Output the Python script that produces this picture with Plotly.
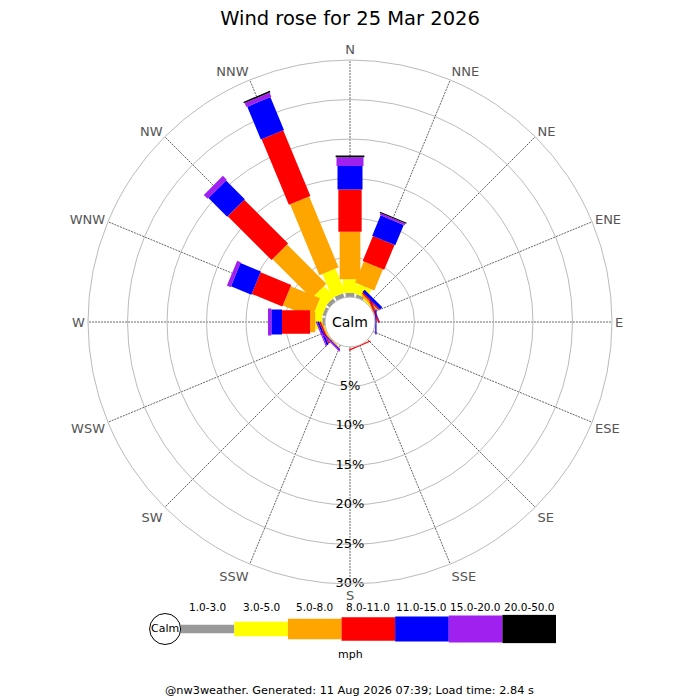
import numpy as np
import plotly.graph_objects as go

# ---- data: wind rose, percentage of time per direction and speed class ----
directions = ['N', 'NNE', 'NE', 'ENE', 'E', 'ESE', 'SE', 'SSE',
              'S', 'SSW', 'SW', 'WSW', 'W', 'WNW', 'NW', 'NNW']
speed_classes = ['1.0-3.0', '3.0-5.0', '5.0-8.0', '8.0-11.0', '11.0-15.0', '15.0-20.0', '20.0-50.0']

spd_1_3 = [0.5, 0.4, 0, 0, 0, 0, 0, 0, 0, 0, 0, 0, 0.35, 0.4, 0.5, 0.55]
spd_3_5 = [1.75, 1.3, 0.2, 0, 0, 0, 0, 0, 0, 0, 0.05, 0.1, 0.9, 1.1, 1.9, 3.25]
spd_5_8 = [6.0, 2.9, 0.25, 0.1, 0, 0, 0, 0, 0, 0, 0.1, 0.15, 0.65, 4.0, 7.0, 9.7]
spd_8_11 = [5.35, 3.4, 0.2, 0.2, 0.05, 0, 0, 0.15, 0, 0, 0.05, 0.2, 3.55, 4.2, 7.85, 9.0]
spd_11_15 = [3.0, 2.8, 0.4, 0.05, 0.15, 0, 0, 0, 0, 0, 0.1, 0.25, 1.35, 2.8, 3.35, 4.5]
spd_15_20 = [1.1, 0.25, 0, 0, 0, 0, 0, 0, 0, 0, 0.15, 0.15, 0.42, 0.5, 0.7, 0.55]
spd_20_50 = [0.2, 0.15, 0, 0, 0, 0, 0, 0, 0, 0, 0, 0, 0, 0, 0, 0.2]

radial_ticks = [5, 10, 15, 20, 25, 30]

# ---- style ----
colors = ['#999999', '#ffff00', '#ffa500', '#ff0000', '#0000ff', '#a020f0', '#000000']
seg_px = [8.7, 14.3, 20.7, 23.3, 25, 27, 28.7]   # bar thickness per class (px)
font = "DejaVu Sans"

# page body adds an 8px margin, so place everything in screen pixels minus that
OFF = 8
W = H = 700


def px_x(x):
    return (x - OFF) / W


def px_y(y):
    return 1 - (y - OFF) / H


all_classes = [spd_1_3, spd_3_5, spd_5_8, spd_8_11, spd_11_15, spd_15_20, spd_20_50]
stack = np.cumsum(np.array(all_classes), axis=0)

dom_x = [px_x(88), px_x(612)]
dom_y = [px_y(584.7), px_y(59.3)]

fig = go.Figure()

# rose segments: one polyline per class, gaps between directions
for i, vals in enumerate(all_classes):
    top = stack[i]
    base = top - np.array(vals)
    r, th = [], []
    for d, b, t in zip(directions, base, top):
        r += [b, t, None]
        th += [d, d, d]
    fig.add_trace(go.Scatterpolar(
        r=r, theta=th, mode='lines', connectgaps=False,
        line=dict(color=colors[i], width=seg_px[i]),
        hoverinfo='skip', showlegend=False,
    ))

# radial labels down the S spoke
fig.add_trace(go.Scatterpolar(
    r=radial_ticks, theta=['S'] * len(radial_ticks), mode='text',
    text=[f"{v}%" for v in radial_ticks], textposition='middle center',
    textfont=dict(family=font, size=13, color='#000000'),
    hoverinfo='skip', showlegend=False,
))

# legend strip (own axes)
fig.add_trace(go.Bar(
    x=list(range(len(speed_classes))), y=seg_px,
    base=[-w / 2 for w in seg_px], width=1,
    marker=dict(color=colors, line=dict(width=0)),
    xaxis='x2', yaxis='y2', hoverinfo='skip', showlegend=False,
))
fig.add_trace(go.Scatter(
    x=[-0.79], y=[0], mode='markers+text', text=['Calm'],
    textposition='middle center', textfont=dict(family=font, size=11, color='#000000'),
    marker=dict(size=31, color='white', line=dict(color='#000000', width=1)),
    cliponaxis=False, xaxis='x2', yaxis='y2', hoverinfo='skip', showlegend=False,
))

annotations = [
    dict(text='Calm', x=sum(dom_x) / 2, y=sum(dom_y) / 2, xref='paper', yref='paper',
         xanchor='center', yanchor='middle', showarrow=False,
         font=dict(family=font, size=14, color='#000000')),
    dict(text='mph', x=px_x(350), y=px_y(654), xref='paper', yref='paper',
         xanchor='center', yanchor='middle', showarrow=False,
         font=dict(family=font, size=11, color='#000000')),
    dict(text='@nw3weather. Generated: 11 Aug 2026 07:39; Load time: 2.84 s',
         x=px_x(349), y=px_y(690), xref='paper', yref='paper',
         xanchor='center', yanchor='middle', showarrow=False,
         font=dict(family=font, size=11.3, color='#000000')),
]
for i, lab in enumerate(speed_classes):
    annotations.append(dict(text=lab, x=i, xref='x2', y=px_y(606.7), yref='paper',
                            xanchor='center', yanchor='middle', showarrow=False,
                            font=dict(family=font, size=10.5, color='#000000')))

fig.update_layout(
    width=W, height=H,
    margin=dict(l=0, r=0, t=0, b=0, autoexpand=False),
    paper_bgcolor='white',
    plot_bgcolor='white',
    font=dict(family=font, size=13, color='#000000'),
    title=dict(text='Wind rose for 25 Mar 2026', x=px_x(350), xanchor='center',
               y=px_y(18.5), yanchor='middle',
               font=dict(family=font, size=19.5, color='#000000')),
    polar=dict(
        domain=dict(x=dom_x, y=dom_y),
        hole=25 / 262.7,
        bgcolor='white',
        radialaxis=dict(range=[0, 30], tickvals=[0] + radial_ticks, showticklabels=False,
                        ticks='', showline=False, gridcolor='#bbbbbb', gridwidth=1, angle=270),
        angularaxis=dict(type='category', categoryarray=directions, direction='clockwise',
                         rotation=90, showline=True, linecolor='#bbbbbb', linewidth=1,
                         gridcolor='#666666', griddash='2px,1px', gridwidth=1, ticks='',
                         tickfont=dict(family=font, size=13, color='#555555')),
    ),
    xaxis2=dict(domain=[px_x(148.5), px_x(556)], range=[-1.1, 6.5], anchor='y2',
                showticklabels=False, showgrid=False, zeroline=False, showline=False,
                ticks='', automargin=False),
    yaxis2=dict(domain=[px_y(643.5), px_y(614.5)], range=[-14.5, 14.5], anchor='x2',
                visible=False, automargin=False),
    annotations=annotations,
)

fig.write_html("out.html")
